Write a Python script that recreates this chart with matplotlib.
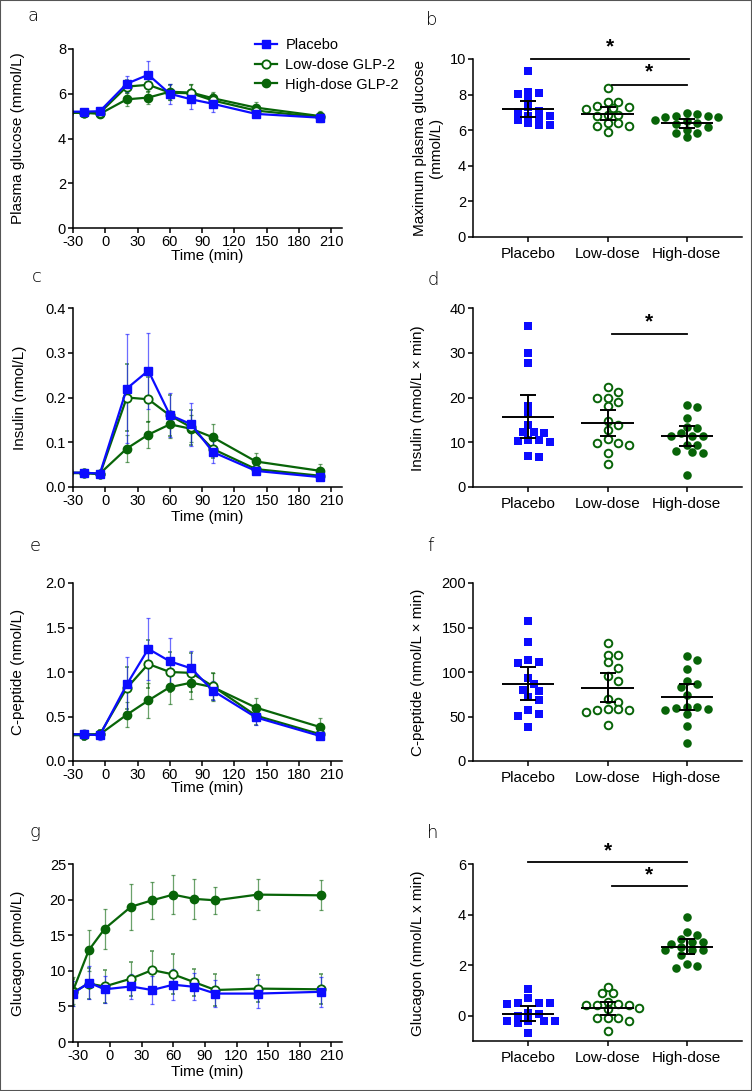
import numpy as np
import matplotlib.pyplot as plt
from matplotlib.lines import Line2D
from matplotlib.patches import Rectangle

plt.rcParams['font.family'] = ['Liberation Sans', 'DejaVu Sans']
plt.rcParams['axes.unicode_minus'] = False

BLUE = '#0C0CFF'
GREEN = '#086408'

# ---- time course data (mean, error) ----
time = [-35, -20, -5, 20, 40, 60, 80, 100, 140, 200]

glucose_placebo = [5.2, 5.2, 5.22, 6.45, 6.85, 6.0, 5.75, 5.55, 5.1, 4.93]
glucose_placebo_err = [0.1, 0.1, 0.12, 0.35, 0.63, 0.45, 0.45, 0.35, 0.12, 0.1]
glucose_low = [5.15, 5.15, 5.15, 6.32, 6.4, 6.05, 6.02, 5.7, 5.25, 4.95]
glucose_low_err = [0.1, 0.1, 0.12, 0.3, 0.3, 0.35, 0.35, 0.3, 0.2, 0.2]
glucose_high = [5.15, 5.15, 5.1, 5.75, 5.83, 6.09, 6.05, 5.8, 5.38, 5.0]
glucose_high_err = [0.1, 0.1, 0.12, 0.3, 0.3, 0.35, 0.4, 0.3, 0.25, 0.25]

insulin_placebo = [0.032, 0.032, 0.03, 0.22, 0.26, 0.161, 0.14, 0.078, 0.036, 0.022]
insulin_placebo_err = [0.004, 0.004, 0.004, 0.122, 0.085, 0.05, 0.048, 0.025, 0.007, 0.005]
insulin_low = [0.032, 0.032, 0.028, 0.2, 0.196, 0.16, 0.133, 0.085, 0.04, 0.025]
insulin_low_err = [0.004, 0.004, 0.004, 0.075, 0.05, 0.045, 0.04, 0.02, 0.01, 0.006]
insulin_high = [0.031, 0.031, 0.03, 0.086, 0.117, 0.14, 0.13, 0.111, 0.057, 0.036]
insulin_high_err = [0.004, 0.004, 0.004, 0.03, 0.03, 0.03, 0.03, 0.029, 0.018, 0.015]

cpep_placebo = [0.3, 0.3, 0.29, 0.86, 1.26, 1.12, 1.04, 0.79, 0.49, 0.28]
cpep_placebo_err = [0.05, 0.05, 0.05, 0.31, 0.35, 0.26, 0.2, 0.11, 0.08, 0.03]
cpep_low = [0.29, 0.29, 0.3, 0.82, 1.09, 1.0, 0.99, 0.84, 0.51, 0.3]
cpep_low_err = [0.05, 0.05, 0.05, 0.235, 0.27, 0.22, 0.22, 0.15, 0.1, 0.05]
cpep_high = [0.3, 0.3, 0.3, 0.52, 0.68, 0.83, 0.88, 0.83, 0.6, 0.38]
cpep_high_err = [0.05, 0.05, 0.05, 0.14, 0.2, 0.19, 0.18, 0.16, 0.11, 0.1]

glucagon_placebo = [6.8, 8.35, 7.4, 7.8, 7.3, 8.05, 7.75, 6.8, 6.8, 7.05]
glucagon_placebo_err = [1.8, 2.3, 1.9, 1.8, 2.0, 2.2, 1.9, 1.9, 2.0, 2.1]
glucagon_low = [7.0, 8.2, 7.8, 8.9, 10.1, 9.5, 8.4, 7.3, 7.5, 7.4]
glucagon_low_err = [1.9, 2.2, 2.3, 2.4, 2.7, 2.8, 1.9, 2.3, 1.9, 2.1]
glucagon_high = [7.2, 12.9, 15.9, 19.0, 19.9, 20.7, 20.1, 19.9, 20.7, 20.6]
glucagon_high_err = [1.9, 2.9, 2.8, 3.2, 2.6, 2.7, 2.8, 1.9, 2.2, 2.1]

# ---- individual subject data ----
groups = ['Placebo', 'Low-dose', 'High-dose']

maxglu_placebo = [9.3, 8.1, 8.05, 8.15, 7.7, 7.3, 7.1, 7.05, 6.8, 6.8, 6.7, 6.6, 6.4, 6.3, 6.3]
maxglu_low = [8.35, 7.6, 7.6, 7.35, 7.3, 7.25, 7.2, 6.85, 6.85, 6.8, 6.4, 6.4, 6.25, 6.25, 5.9]
maxglu_high = [6.95, 6.9, 6.8, 6.8, 6.75, 6.75, 6.6, 6.5, 6.4, 6.35, 6.2, 6.0, 5.85, 5.85, 5.6]
maxglu_mean = [7.19, 6.93, 6.40]
maxglu_err = [0.47, 0.38, 0.25]

insauc_placebo = [36, 30, 27.8, 18.2, 16.6, 13.8, 12.3, 12.0, 12.2, 10.5, 10.3, 10.5, 10.0, 6.9, 6.8]
insauc_low = [22.3, 21.3, 20.0, 20.0, 18.2, 18.9, 14.8, 13.8, 12.8, 10.8, 9.8, 9.8, 9.3, 7.6, 5.2]
insauc_high = [18.4, 17.9, 15.5, 13.2, 13.4, 12.0, 11.5, 11.5, 11.5, 9.3, 9.3, 7.8, 7.6, 8.0, 2.6]
insauc_mean = [15.7, 14.3, 11.4]
insauc_err = [4.85, 3.0, 2.2]

cpauc_placebo = [157, 134, 114, 111, 110, 93, 86, 80, 79, 72, 69, 57, 53, 51, 38]
cpauc_low = [133, 119, 119, 111, 105, 96, 90, 70, 66, 58, 58, 57, 57, 55, 40]
cpauc_high = [118, 114, 103, 90, 87, 83, 74, 61, 61, 60, 58, 57, 53, 39, 20]
cpauc_mean = [87, 82.5, 72]
cpauc_err = [18.7, 16.5, 15]

gcgauc_placebo = [1.05, 0.7, 0.5, 0.5, 0.5, 0.45, 0.05, 0.1, 0.0, -0.2, -0.2, -0.2, -0.2, -0.3, -0.7]
gcgauc_low = [1.15, 0.88, 0.88, 0.55, 0.45, 0.42, 0.42, 0.42, 0.3, 0.25, -0.1, -0.1, -0.1, -0.22, -0.62]
gcgauc_high = [3.9, 3.3, 3.2, 3.05, 2.9, 2.9, 2.85, 2.7, 2.6, 2.6, 2.6, 2.4, 2.05, 1.95, 1.9]
gcgauc_mean = [0.08, 0.29, 2.73]
gcgauc_err = [0.3, 0.27, 0.3]

W, H = 752, 1091
fig = plt.figure(figsize=(W / 100, H / 100), dpi=100)


def px_axes(left, top, right, bottom):
    return fig.add_axes([left / W, 1 - bottom / H, (right - left) / W, (bottom - top) / H])


def style_axes(ax):
    for s in ['top', 'right']:
        ax.spines[s].set_visible(False)
    for s in ['left', 'bottom']:
        ax.spines[s].set_linewidth(1.1)
    ax.tick_params(direction='out', length=3.5, width=1.1, labelsize=10.5, pad=1.5)


def time_panel(ax, p, pe, lo, le, hi, he, ylim, yticks, fmt, xmin=-30):
    style_axes(ax)
    series = [
        (hi, he, dict(marker='o', ms=6, mfc=GREEN, mec=GREEN, color=GREEN), GREEN),
        (lo, le, dict(marker='o', ms=6, mfc='white', mec=GREEN, mew=1.3, color=GREEN), GREEN),
        (p, pe, dict(marker='s', ms=5.5, mfc=BLUE, mec=BLUE, color=BLUE), BLUE),
    ]
    for vals, err, kw, c in series:
        eb = ax.errorbar(time, vals, yerr=err, lw=1.6, elinewidth=0.9, capsize=1.5,
                         capthick=0.9, ecolor=c, **kw)
        for l in eb[2]:
            l.set_alpha(0.6)
        for l in eb[1]:
            l.set_alpha(0.6)
    ax.set_xlim(xmin, 220)
    ax.set_xticks(range(-30, 211, 30))
    ax.set_ylim(*ylim)
    ax.set_yticks(yticks)
    ax.set_yticklabels([fmt.format(v) for v in yticks])


def swarm_x(ax, xc, vals, step_px=5.3, dx_min=10.5, dy_min=7.0):
    # simple beeswarm: place points from top down, nearest free slot to the centre
    trans = ax.transData
    order = np.argsort(vals)[::-1]
    placed = []
    xs = np.zeros(len(vals))
    x0, _ = trans.transform((xc, 0))
    x1, _ = trans.transform((xc + 1, 0))
    ppu = x1 - x0
    cands = [0] + [s * k for k in range(1, 40) for s in (1, -1)]
    for i in order:
        _, py = trans.transform((xc, vals[i]))
        for c in cands:
            px = x0 + c * step_px
            if all(((px - qx) / dx_min) ** 2 + ((py - qy) / dy_min) ** 2 >= 1
                   for qx, qy in placed):
                break
        placed.append((px, py))
        xs[i] = xc + (px - x0) / ppu
    return xs


def dot_panel(ax, data, means, errs, ylim, yticks):
    style_axes(ax)
    ax.set_xlim(-0.7, 2.7)
    ax.set_ylim(*ylim)
    ax.set_yticks(yticks)
    ax.set_xticks([0, 1, 2])
    ax.set_xticklabels(groups, fontsize=11)
    ax.tick_params(axis='x', pad=4)
    styles = [dict(marker='s', s=30, color=BLUE, linewidths=0),
              dict(marker='o', s=30, facecolors='white', edgecolors=GREEN, linewidths=1.4),
              dict(marker='o', s=38, color=GREEN, linewidths=0)]
    for i, vals in enumerate(data):
        xs = swarm_x(ax, i, vals)
        ax.scatter(xs, vals, zorder=2, clip_on=False, **styles[i])
        ax.hlines(means[i], i - 0.33, i + 0.33, color='black', lw=1.4, zorder=3)
        ax.errorbar(i, means[i], yerr=errs[i], color='black', elinewidth=1.4,
                    capsize=6, capthick=1.4, zorder=3)


def sig(ax, x0, x1, y, ystar):
    ax.plot([x0, x1], [y, y], color='black', lw=1.3, clip_on=False)
    ax.text((x0 + x1) / 2, ystar, '*', ha='center', va='center', fontsize=15,
            fontweight='bold', clip_on=False)


def label_at(x, y, text, **kw):
    fig.text(x / W, 1 - y / H, text, ha='center', va='center', **kw)


LAB = 11

# ---- panel a ----
ax = px_axes(73, 49, 342, 228)
time_panel(ax, glucose_placebo, glucose_placebo_err, glucose_low, glucose_low_err,
           glucose_high, glucose_high_err, (0, 8), [0, 2, 4, 6, 8], '{:g}')
label_at(18, 138, 'Plasma glucose (mmol/L)', rotation=90, fontsize=LAB)
label_at(207, 256, 'Time (min)', fontsize=LAB)
handles = [Line2D([], [], color=BLUE, marker='s', ms=5.5, lw=1.6),
           Line2D([], [], color=GREEN, marker='o', ms=6, mfc='white', mew=1.3, lw=1.6),
           Line2D([], [], color=GREEN, marker='o', ms=6, lw=1.6)]
fig.legend(handles, ['Placebo', 'Low-dose GLP-2', 'High-dose GLP-2'], loc='upper left',
           bbox_to_anchor=(249 / W, 1 - 32 / H), frameon=False, fontsize=10.5,
           handlelength=1.5, handletextpad=0.6, labelspacing=0.4, borderaxespad=0)

# ---- panel b ----
ax = px_axes(473, 59, 742, 237)
dot_panel(ax, [maxglu_placebo, maxglu_low, maxglu_high], maxglu_mean, maxglu_err,
          (0, 10), [0, 2, 4, 6, 8, 10])
sig(ax, 0.03, 2.03, 10.0, 10.7)
sig(ax, 1.06, 2.0, 8.55, 9.27)
label_at(428, 148, 'Maximum plasma glucose\n(mmol/L)', rotation=90, fontsize=LAB,
         linespacing=1.25)

# ---- panel c ----
ax = px_axes(73, 308, 342, 487)
time_panel(ax, insulin_placebo, insulin_placebo_err, insulin_low, insulin_low_err,
           insulin_high, insulin_high_err, (0, 0.4), [0, 0.1, 0.2, 0.3, 0.4], '{:.1f}')
label_at(20, 398, 'Insulin (nmol/L)', rotation=90, fontsize=LAB)
label_at(207, 517, 'Time (min)', fontsize=LAB)

# ---- panel d ----
ax = px_axes(473, 308, 742, 487)
dot_panel(ax, [insauc_placebo, insauc_low, insauc_high], insauc_mean, insauc_err,
          (0, 40), [0, 10, 20, 30, 40])
sig(ax, 1.06, 2.0, 34.2, 37.0)
label_at(418, 398, 'Insulin (nmol/L \u00d7 min)', rotation=90, fontsize=LAB)

# ---- panel e ----
ax = px_axes(73, 583, 342, 761)
time_panel(ax, cpep_placebo, cpep_placebo_err, cpep_low, cpep_low_err,
           cpep_high, cpep_high_err, (0, 2.0), [0, 0.5, 1.0, 1.5, 2.0], '{:.1f}')
label_at(18, 672, 'C-peptide (nmol/L)', rotation=90, fontsize=LAB)
label_at(207, 788, 'Time (min)', fontsize=LAB)

# ---- panel f ----
ax = px_axes(473, 583, 742, 761)
dot_panel(ax, [cpauc_placebo, cpauc_low, cpauc_high], cpauc_mean, cpauc_err,
          (0, 200), [0, 50, 100, 150, 200])
label_at(418, 672, 'C-peptide (nmol/L \u00d7 min)', rotation=90, fontsize=LAB)

# ---- panel g ----
ax = px_axes(73, 864, 342, 1042)
time_panel(ax, glucagon_placebo, glucagon_placebo_err, glucagon_low, glucagon_low_err,
           glucagon_high, glucagon_high_err, (0, 25), [0, 5, 10, 15, 20, 25], '{:g}',
           xmin=-35)
label_at(18, 953, 'Glucagon (pmol/L)', rotation=90, fontsize=LAB)
label_at(207, 1072, 'Time (min)', fontsize=LAB)

# ---- panel h ----
ax = px_axes(473, 864, 742, 1041)
dot_panel(ax, [gcgauc_placebo, gcgauc_low, gcgauc_high], gcgauc_mean, gcgauc_err,
          (-1, 6), [0, 2, 4, 6])
sig(ax, 0.0, 2.0, 6.07, 6.5)
sig(ax, 1.06, 2.0, 5.12, 5.57)
label_at(418, 953, 'Glucagon (nmol/L x min)', rotation=90, fontsize=LAB)

# panel letters
for letter, x, y in [('a', 33, 16), ('b', 432, 20), ('c', 37, 277), ('d', 433, 280),
                     ('e', 35, 546), ('f', 430, 546), ('g', 35, 832), ('h', 433, 833)]:
    label_at(x, y, letter, fontsize=13, family='DejaVu Sans', fontweight='light')

fig.patches.append(Rectangle((0, 0), 1, 1, transform=fig.transFigure, fill=False,
                             edgecolor='#555555', lw=1.5))

fig.savefig('out.png', dpi=100)
